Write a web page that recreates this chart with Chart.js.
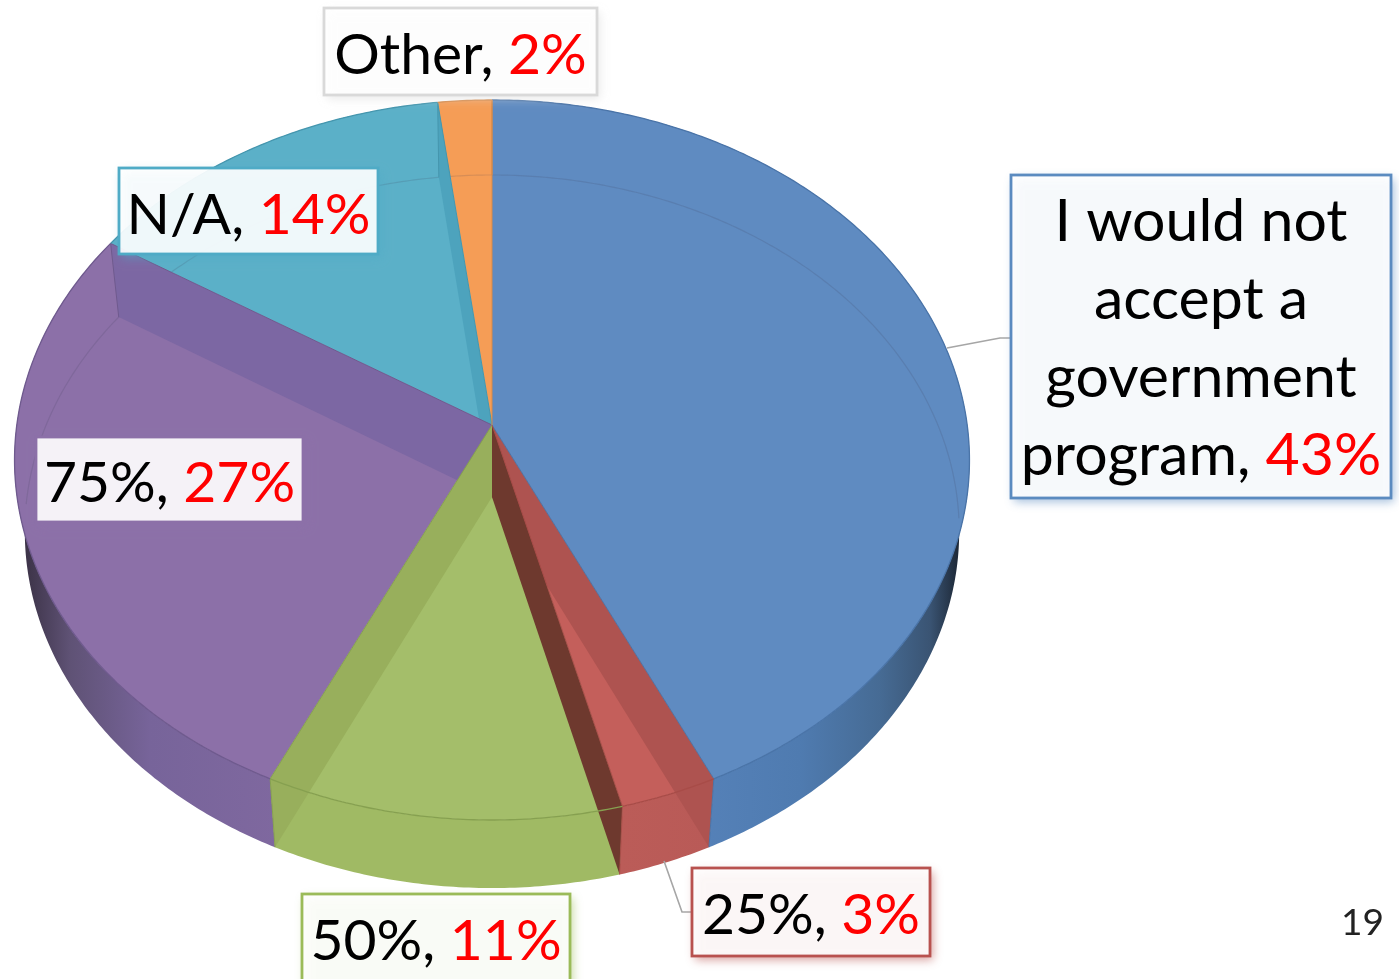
<!DOCTYPE html>
<html>
  <head>
    <meta charset="utf-8" />
    <script src="https://cdnjs.cloudflare.com/ajax/libs/Chart.js/4.4.1/chart.umd.min.js"></script>
    <style>
      html, body { margin: 0; padding: 0; background: #fff; overflow: hidden; }
      .chart-container { position: relative; width: 1399px; height: 979px; }
    </style>
  </head>
  <body>
    <div class="chart-container">
      <canvas id="myChart" width="1399" height="979"></canvas>
    </div>
    <script>
      const categories = ["I would not accept a government program", "25%", "50%", "75%", "N/A", "Other"];
      const values = [43, 3, 11, 27, 14, 2];
      const categoryLines = [["I would not", "accept a", "government", "program"], ["25%"], ["50%"], ["75%"], ["N/A"], ["Other"]];
      const pageNumber = "19";

      const topColors = ["#5f8bc1", "#c45f5b", "#a4be6a", "#8c70a8", "#5bb0c8", "#f59d56"];
      const edgeColors = ["#4a74a8", "#a84c48", "#86a050", "#6f5a8e", "#4596ae", "#d88a48"];
      const borderColors = ["#5b8bc0", "#b8524f", "#9bbb59", "#8c70a8", "#4fabc6", "#d9d9d9"];
      // colour of the cut wall at the end of each slice, null where it is edge on
      const cutColors = ["#ae5350", "#6e392e", "#98af5c", "#7c67a3", "#4da3bd", null];
      const cutOrder = [4, 3, 2, 0, 1];
      const wallStops = [
        [[700, "#5581b8"], [800, "#4f7bb0"], [880, "#466b94"], [930, "#3a5473"], [960, "#1c2634"]],
        [[620, "#bb5c58"], [710, "#b95a57"]],
        [[277, "#a0ba64"], [620, "#a0ba64"]],
        [[24, "#3b3246"], [70, "#5f5275"], [150, "#77649a"], [277, "#7f689f"]],
        [[0, "#5bb0c8"], [1, "#5bb0c8"]],
        [[0, "#f59d56"], [1, "#f59d56"]]
      ];

      // where each box goes: x, y, w, h, first baseline, line step, font size
      const boxes = [
        [1011, 175, 380, 323, 241, 78, 59],
        [692, 868, 238, 88, 934, 0, 57],
        [302, 894, 268, 100, 960, 0, 57],
        [36, 437, 267, 85, 502, 0, 57],
        [119, 168, 259, 86, 234, 0, 57],
        [324, 8, 273, 87, 74, 0, 57]
      ];
      const leaders = [
        [[947, 348], [1000, 338], [1011, 338]],
        [[664, 861], [682, 912], [692, 912]]
      ];

      // the flat disc seen in perspective, for the top and the bottom of the pie
      const topDisc = { cx: 492, cy: 425, a: 475.2, b: 356.6, k: 0.0972 };
      const baseDisc = { cx: 492, cy: 497, a: 465, b: 353.2, k: 0.0968 };

      function project(disc, angle) {
        const u = Math.cos(angle);
        const v = Math.sin(angle);
        const w = 1 - disc.k * v;
        return [disc.cx + (disc.a * u) / w, disc.cy + (disc.b * v) / w];
      }

      function rimPoints(disc, from, to) {
        const steps = Math.max(2, Math.ceil(Math.abs(to - from) / 0.01));
        const pts = [];
        for (let i = 0; i <= steps; i++) {
          pts.push(project(disc, from + ((to - from) * i) / steps));
        }
        return pts;
      }

      function tracePoly(ctx, pts) {
        ctx.beginPath();
        pts.forEach((p, i) => (i ? ctx.lineTo(p[0], p[1]) : ctx.moveTo(p[0], p[1])));
        ctx.closePath();
      }

      function strokeLine(ctx, pts, color, width) {
        ctx.beginPath();
        pts.forEach((p, i) => (i ? ctx.lineTo(p[0], p[1]) : ctx.moveTo(p[0], p[1])));
        ctx.strokeStyle = color;
        ctx.lineWidth = width;
        ctx.stroke();
      }

      const pie3d = {
        id: "pie3d",
        beforeDatasetsDraw(chart) {
          const ctx = chart.ctx;
          const arcs = chart.getDatasetMeta(0).data;

          // outer wall of each slice
          arcs.forEach((arc, i) => {
            const top = rimPoints(topDisc, arc.startAngle, arc.endAngle);
            const base = rimPoints(baseDisc, arc.endAngle, arc.startAngle);
            const stops = wallStops[i];
            const x0 = stops[0][0];
            const x1 = stops[stops.length - 1][0];
            const grad = ctx.createLinearGradient(x0, 0, x1, 0);
            stops.forEach(s => grad.addColorStop((s[0] - x0) / (x1 - x0), s[1]));
            tracePoly(ctx, top.concat(base));
            ctx.fillStyle = grad;
            ctx.fill();
          });

          // top faces
          arcs.forEach((arc, i) => {
            const pts = [[topDisc.cx, topDisc.cy]].concat(rimPoints(topDisc, arc.startAngle, arc.endAngle));
            tracePoly(ctx, pts);
            ctx.fillStyle = topColors[i];
            ctx.fill();
          });

          // back of the bottom disc showing through
          const ends = arcs.map(a => a.endAngle);
          const back = rimPoints(baseDisc, Math.PI - 0.02, 2 * Math.PI + 0.06);
          strokeLine(ctx, back, "rgba(60,60,90,0.16)", 1.2);

          // cut walls between slices, seen through the top
          cutOrder.forEach(i => {
            const end = ends[i];
            tracePoly(ctx, [
              [topDisc.cx, topDisc.cy],
              project(topDisc, end),
              project(baseDisc, end),
              [baseDisc.cx, baseDisc.cy]
            ]);
            ctx.fillStyle = cutColors[i];
            ctx.fill();
          });

          // edges on top of everything
          arcs.forEach((arc, i) => {
            strokeLine(ctx, rimPoints(topDisc, arc.startAngle, arc.endAngle), edgeColors[i], 1.3);
            strokeLine(ctx, [[topDisc.cx, topDisc.cy], project(topDisc, arc.endAngle)], edgeColors[i], 1);
            strokeLine(ctx, [project(topDisc, arc.endAngle), project(baseDisc, arc.endAngle)], edgeColors[i], 1);
          });
          return false;
        },
        afterDraw(chart) {
          const ctx = chart.ctx;
          leaders.forEach(l => strokeLine(ctx, l, "#a6a6a6", 1.6));

          boxes.forEach((box, i) => {
            const [x, y, w, h, base, step, size] = box;
            ctx.save();
            ctx.shadowColor = borderColors[i] + "99";
            ctx.shadowBlur = 9;
            ctx.shadowOffsetX = 3;
            ctx.shadowOffsetY = 4;
            ctx.fillStyle = "rgba(255,255,255,0.91)";
            ctx.fillRect(x, y, w, h);
            ctx.restore();
            ctx.strokeStyle = borderColors[i];
            ctx.lineWidth = 2.8;
            ctx.strokeRect(x, y, w, h);

            ctx.font = size + "px Lato";
            ctx.textBaseline = "alphabetic";
            ctx.textAlign = "left";
            const lines = categoryLines[i];
            lines.forEach((line, n) => {
              const last = n === lines.length - 1;
              const black = last ? line + ", " : line;
              const red = last ? values[i] + "%" : "";
              const width = ctx.measureText(black + red).width;
              const left = x + w / 2 - width / 2;
              ctx.fillStyle = "#000";
              ctx.fillText(black, left, base + n * step);
              ctx.fillStyle = "#ff0000";
              ctx.fillText(red, left + ctx.measureText(black).width, base + n * step);
            });
          });

          ctx.font = "37px Lato";
          ctx.fillStyle = "#222";
          ctx.textAlign = "right";
          ctx.fillText(pageNumber, 1384, 935);
        }
      };

      const ctx = document.getElementById("myChart").getContext("2d");
      const chart = new Chart(ctx, {
        type: "pie",
        data: {
          labels: categories,
          datasets: [{ data: values, backgroundColor: topColors, borderWidth: 0 }]
        },
        options: {
          responsive: false,
          animation: false,
          plugins: { legend: { display: false }, tooltip: { enabled: false } }
        },
        plugins: [pie3d]
      });
    </script>
  </body>
</html>
